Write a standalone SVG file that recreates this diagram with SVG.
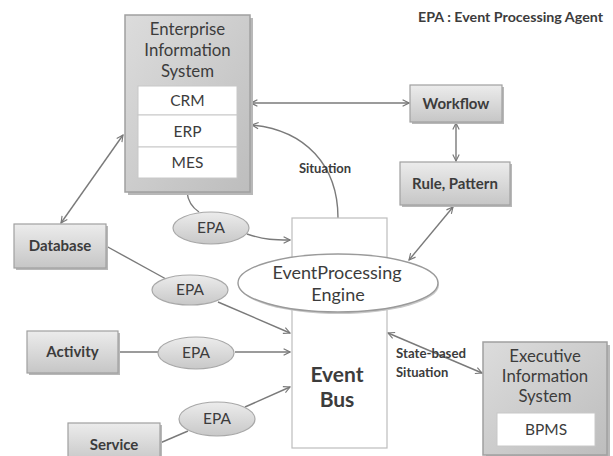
<svg xmlns="http://www.w3.org/2000/svg" width="613" height="456" viewBox="0 0 613 456">
<defs>
<linearGradient id="gbox" x1="0" y1="0" x2="0" y2="1">
<stop offset="0" stop-color="#ececec"/><stop offset="1" stop-color="#c6c6c6"/>
</linearGradient>
<linearGradient id="gbig" x1="0" y1="0" x2="1" y2="1">
<stop offset="0" stop-color="#dcdcdc"/><stop offset="1" stop-color="#bdbdbd"/>
</linearGradient>
<linearGradient id="gepa" x1="0" y1="0" x2="0" y2="1">
<stop offset="0" stop-color="#ececec"/><stop offset="1" stop-color="#c8c8c8"/>
</linearGradient>
<marker id="ah" viewBox="0 0 10 10" refX="9" refY="5" markerWidth="8" markerHeight="8" orient="auto-start-reverse" markerUnits="userSpaceOnUse">
<path d="M1,1 L9,5 L1,9" fill="none" stroke="#777" stroke-width="1.4"/>
</marker>
</defs>
<style>
.box{fill:url(#gbox);stroke:#a0a0a0;stroke-width:1.2}
.big{fill:url(#gbig);stroke:#a0a0a0;stroke-width:1.5}
.inner{fill:#fff;stroke:#c8c8c8;stroke-width:1}
.epa{fill:url(#gepa);stroke:#a8a8a8;stroke-width:1.2}
.lbl{font-family:Lato,"Open Sans","Liberation Sans",sans-serif;font-weight:bold;font-size:15px;fill:#3c3c3c;text-anchor:middle}
.reg{font-family:Lato,"Open Sans","Liberation Sans",sans-serif;font-size:15.5px;fill:#3c3c3c;text-anchor:middle}
.ttl{font-size:16.8px}
.sm{font-family:Lato,"Open Sans","Liberation Sans",sans-serif;font-weight:bold;font-size:13px;fill:#3c3c3c}
.big-t{font-size:21px}
.con{fill:none;stroke:#7a7a7a;stroke-width:1.4}
.shadow{fill:#b8b8b8}
</style>
<rect width="613" height="456" fill="#fff"/>
<text class="sm" x="418" y="22" textLength="185" lengthAdjust="spacingAndGlyphs">EPA : Event Processing Agent</text>

<g id="connectors">
<line class="con" x1="251" y1="103" x2="409" y2="103" marker-start="url(#ah)" marker-end="url(#ah)"/>
<line class="con" x1="456" y1="123" x2="456" y2="161" marker-start="url(#ah)" marker-end="url(#ah)"/>
<path class="con" d="M338,218 C338,165 305,130 252,125" marker-end="url(#ah)"/>
<line class="con" x1="123" y1="135" x2="61" y2="223" marker-start="url(#ah)" marker-end="url(#ah)"/>
<path class="con" d="M187,192 C188,202 193,208 199,212"/>
<path class="con" d="M247,234 C265,240 275,240 290,240" marker-end="url(#ah)"/>
<line class="con" x1="453" y1="207" x2="409" y2="260" marker-start="url(#ah)" marker-end="url(#ah)"/>
<line class="con" x1="106" y1="246" x2="166" y2="279"/>
<line class="con" x1="218" y1="302" x2="290" y2="333" marker-end="url(#ah)"/>
<line class="con" x1="118" y1="352" x2="158" y2="352"/>
<line class="con" x1="235" y1="352" x2="290" y2="352" marker-end="url(#ah)"/>
<line class="con" x1="160" y1="443" x2="188" y2="431"/>
<line class="con" x1="245" y1="407" x2="290" y2="387" marker-end="url(#ah)"/>
<line class="con" x1="388" y1="333" x2="482" y2="373" marker-start="url(#ah)" marker-end="url(#ah)"/>
<text class="sm" x="325" y="173" text-anchor="middle">Situation</text>
<text class="sm" x="396" y="358" textLength="70" lengthAdjust="spacingAndGlyphs">State-based</text>
<text class="sm" x="396" y="377">Situation</text>
</g>

<g id="eis">
<rect class="shadow" x="128" y="18" width="125" height="177"/>
<rect class="big" x="125" y="15" width="125" height="177"/>
<text class="reg ttl" x="187.5" y="35">Enterprise</text>
<text class="reg ttl" x="187.5" y="56">Information</text>
<text class="reg ttl" x="187.5" y="77">System</text>
<rect class="inner" x="138" y="86" width="99" height="29"/>
<rect class="inner" x="138" y="115" width="99" height="32"/>
<rect class="inner" x="138" y="147" width="99" height="31"/>
<text class="reg" x="187.5" y="106">CRM</text>
<text class="reg" x="187.5" y="137">ERP</text>
<text class="reg" x="187.5" y="168">MES</text>
</g>

<g id="workflow">
<rect class="shadow" x="412" y="87" width="92" height="37"/>
<rect class="box" x="410" y="85" width="92" height="37"/>
<text class="lbl" x="456" y="109">Workflow</text>
</g>

<g id="rule">
<rect class="shadow" x="402" y="164" width="110" height="43"/>
<rect class="box" x="400" y="162" width="110" height="43"/>
<text class="lbl" x="455" y="189">Rule, Pattern</text>
</g>

<g id="database">
<rect class="shadow" x="16" y="226" width="92" height="44"/>
<rect class="box" x="14" y="224" width="92" height="44"/>
<text class="lbl" x="60" y="251">Database</text>
</g>

<g id="activity">
<rect class="shadow" x="29" y="333" width="91" height="42"/>
<rect class="box" x="27" y="331" width="91" height="42"/>
<text class="lbl" x="72.5" y="357">Activity</text>
</g>

<g id="service">
<rect class="shadow" x="70" y="425" width="92" height="40"/>
<rect class="box" x="68" y="423" width="92" height="40"/>
<text class="lbl" x="114" y="450">Service</text>
</g>

<g id="eventbus">
<rect x="292" y="218" width="95" height="230" fill="#fff" stroke="#bdbdbd" stroke-width="1.2"/>
<text class="lbl big-t" x="337" y="382">Event</text>
<text class="lbl big-t" x="337" y="407">Bus</text>
</g>

<g id="engine">
<ellipse cx="339" cy="285" rx="100" ry="29" fill="#c8c8c8"/>
<ellipse cx="338" cy="283" rx="100" ry="29" fill="#fff" stroke="#9a9a9a" stroke-width="1.4"/>
<text class="reg" x="337" y="279" style="font-size:18px">EventProcessing</text>
<text class="reg" x="338" y="301" style="font-size:18px">Engine</text>
</g>

<g id="epa1">
<ellipse class="epa" cx="211" cy="228" rx="38" ry="16"/>
<text class="reg" x="211" y="233">EPA</text>
</g>
<g id="epa2">
<ellipse class="epa" cx="190" cy="290" rx="38" ry="15"/>
<text class="reg" x="190" y="295">EPA</text>
</g>
<g id="epa3">
<ellipse class="epa" cx="196" cy="353" rx="38" ry="16"/>
<text class="reg" x="196" y="358">EPA</text>
</g>
<g id="epa4">
<ellipse class="epa" cx="217" cy="419" rx="38" ry="17"/>
<text class="reg" x="217" y="424">EPA</text>
</g>

<g id="exec">
<rect class="shadow" x="486" y="345" width="124" height="113"/>
<rect class="big" x="483" y="342" width="124" height="113"/>
<text class="reg ttl" x="545" y="362">Executive</text>
<text class="reg ttl" x="545" y="382">Information</text>
<text class="reg ttl" x="545" y="402">System</text>
<rect class="inner" x="497" y="413" width="98" height="33"/>
<text class="reg" x="546" y="435">BPMS</text>
</g>
</svg>
